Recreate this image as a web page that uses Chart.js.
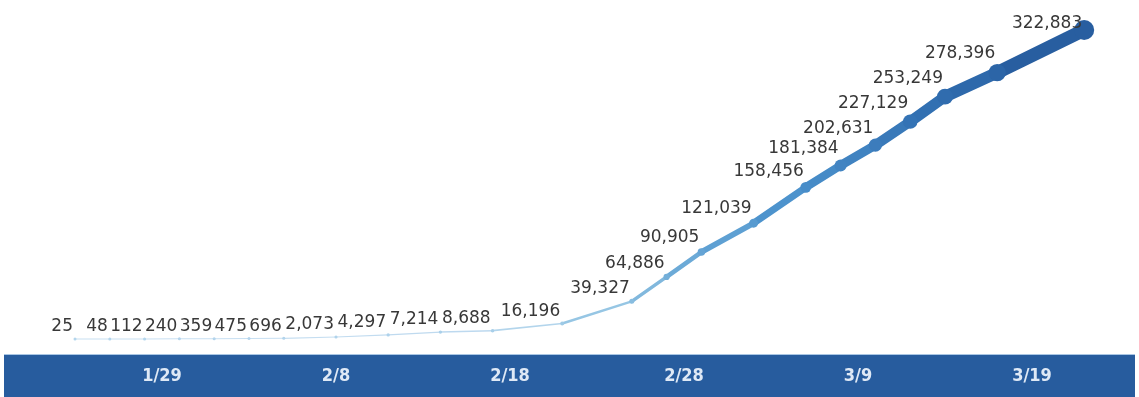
<!DOCTYPE html>
<html lang="en">
<head>
<meta charset="UTF-8">
<title>Cumulative tests</title>
<script src="https://cdn.jsdelivr.net/npm/chart.js"></script>
<style>
    html, body { margin: 0; padding: 0; background: #fff; }
    #wrap { width: 1139px; height: 397px; }
</style>
</head>
<body>
<div id="wrap"><canvas id="tests" width="1139" height="397"></canvas></div>
<script>
// cumulative counts by report date (2020)
const dates = ['1/24', '1/26', '1/28', '1/30', '2/1', '2/3', '2/5', '2/8', '2/11', '2/14', '2/17', '2/21',
    '2/25', '2/27', '2/29', '3/3', '3/6', '3/8', '3/10', '3/12', '3/14', '3/17', '3/22'];
const counts = [25, 48, 112, 240, 359, 475, 696, 2073, 4297, 7214, 8688, 16196,
    39327, 64886, 90905, 121039, 158456, 181384, 202631, 227129, 253249, 278396, 322883];
const tickDates = ['1/29', '2/8', '2/18', '2/28', '3/9', '3/19'];

// day of year, 2020 is a leap year
const monthStart = [0, 31, 60, 91];
function dayNum(s) {
    const [m, d] = s.split('/').map(Number);
    return monthStart[m - 1] + d;
}
const tickDays = tickDates.map(dayNum);
const maxCount = Math.max(...counts);

// light -> dark blue ramp
const ramp = [
    [0, [200, 223, 242]],
    [0.12, [150, 198, 228]],
    [0.28, [108, 170, 215]],
    [0.5, [76, 146, 205]],
    [0.78, [50, 112, 178]],
    [1, [40, 94, 160]]
];
function shade(t) {
    t = Math.max(0, Math.min(1, t));
    for (let k = 1; k < ramp.length; k++) {
        const [t1, c1] = ramp[k];
        const [t0, c0] = ramp[k - 1];
        if (t <= t1) {
            const f = (t - t0) / (t1 - t0);
            const c = c0.map((v, j) => Math.round(v + (c1[j] - v) * f));
            return `rgb(${c[0]},${c[1]},${c[2]})`;
        }
    }
    return 'rgb(40,94,160)';
}
const share = i => counts[i] / maxCount;
const lineWidth = i => 1 + 13 * Math.pow(share(i), 0.9);
const dotRadius = i => lineWidth(i) / 2 + 1 + 2 * share(i) * share(i);

const axisBand = {
    id: 'axisBand',
    beforeDraw(chart) {
        const { ctx, chartArea } = chart;
        const x = chart.scales.x;
        ctx.save();
        ctx.fillStyle = '#275c9e';
        ctx.fillRect(chartArea.left, x.top, chartArea.right - chartArea.left, x.bottom - x.top);
        ctx.fillStyle = '#a9c6e4';
        ctx.fillRect(chartArea.left, x.top - 1, chartArea.right - chartArea.left, 1);
        ctx.restore();
    }
};

const valueLabels = {
    id: 'valueLabels',
    afterDatasetsDraw(chart) {
        const { ctx } = chart;
        const meta = chart.getDatasetMeta(0);
        ctx.save();
        ctx.font = '17px "DejaVu Sans"';
        ctx.fillStyle = '#383838';
        ctx.textAlign = 'right';
        ctx.textBaseline = 'alphabetic';
        meta.data.forEach((pt, i) => {
            const y = Math.max(pt.y - pt.options.radius - 6, 28);
            ctx.fillText(counts[i].toLocaleString('en-US'), pt.x - 2, y);
        });
        ctx.restore();
    }
};

new Chart(document.getElementById('tests'), {
    type: 'line',
    data: {
        datasets: [{
            data: dates.map((d, i) => ({ x: dayNum(d), y: counts[i] })),
            borderCapStyle: 'round',
            borderJoinStyle: 'round',
            tension: 0,
            segment: {
                borderColor: c => shade(share(c.p1DataIndex)),
                borderWidth: c => (lineWidth(c.p0DataIndex) + lineWidth(c.p1DataIndex)) / 2
            },
            pointRadius: counts.map((v, i) => dotRadius(i)),
            pointBorderWidth: 0,
            pointBackgroundColor: counts.map((v, i) => shade(share(i) + 0.05)),
            pointBorderColor: counts.map((v, i) => shade(share(i) + 0.05))
        }]
    },
    options: {
        responsive: false,
        animation: false,
        devicePixelRatio: 1,
        layout: { autoPadding: false, padding: { left: 4, right: 4, top: 0, bottom: 0 } },
        plugins: { legend: { display: false }, tooltip: { enabled: false } },
        scales: {
            x: {
                type: 'linear',
                min: 19.92,
                max: 84.92,
                grid: { display: false, drawTicks: false },
                border: { display: false },
                afterBuildTicks: s => { s.ticks = tickDays.map(v => ({ value: v })); },
                afterFit: s => { s.height = 42; },
                ticks: {
                    autoSkip: false,
                    maxRotation: 0,
                    padding: 11,
                    color: '#dfe9f6',
                    font: { family: 'DejaVu Sans Condensed', size: 18, weight: 'bold' },
                    callback: v => tickDates[tickDays.indexOf(v)]
                }
            },
            y: {
                display: false,
                min: -16720,
                max: 354230
            }
        }
    },
    plugins: [axisBand, valueLabels]
});
</script>
</body>
</html>
